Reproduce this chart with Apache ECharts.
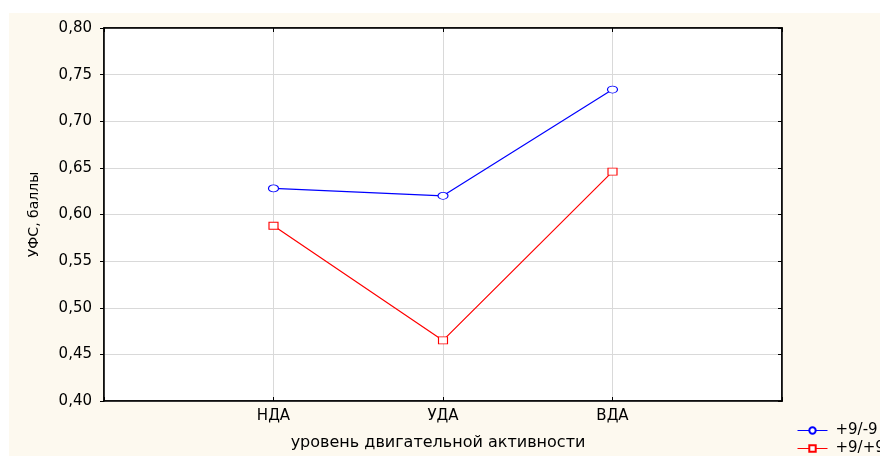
<!DOCTYPE html>
<html>
<head>
<meta charset="utf-8">
<script src="https://cdn.jsdelivr.net/npm/echarts@6/dist/echarts.min.js"></script>
<style>
  html, body { margin: 0; padding: 0; background: #ffffff; }
  #chart { width: 880px; height: 456px; }
</style>
</head>
<body>
<div id="chart"></div>
<script>
// Category slots: empty slots at both ends keep the three levels centred with margins
const categories = ['', 'НДА', 'УДА', 'ВДА', ''];
const seriesNames = ['+9/-9', '+9/+9'];
const valuesMinus = [null, 0.628, 0.620, 0.734, null];
const valuesPlus = [null, 0.588, 0.465, 0.646, null];
const yTicks = { min: 0.40, max: 0.80, step: 0.05 };

const FONT = '"DejaVu Sans", "Liberation Sans", Arial, sans-serif';
const chart = echarts.init(document.getElementById('chart'));

const commaFmt = v => v.toFixed(2).replace('.', ',');

// one legend box per series so each entry sits on its own row
const legendRow = (name, top) => ({
  orient: 'vertical',
  left: 797,
  top: top,
  itemWidth: 30,
  itemHeight: 8,
  padding: 0,
  lineStyle: { width: 1 },
  textStyle: { fontFamily: FONT, fontSize: 15, color: '#000', padding: [0, 0, 0, 3] },
  data: [name]
});

chart.setOption({
  animation: false,
  backgroundColor: '#ffffff',
  graphic: [{
    type: 'rect',
    z: -100,
    silent: true,
    shape: { x: 9, y: 13, width: 871, height: 443 },
    style: { fill: '#fdf9ef' }
  }],
  grid: {
    left: 104, top: 28, right: 98, bottom: 53,
    show: true,
    backgroundColor: '#ffffff',
    borderColor: '#000000',
    borderWidth: 1.5
  },
  legend: [legendRow(seriesNames[0], 423), legendRow(seriesNames[1], 441)],
  xAxis: [{
    type: 'category',
    data: categories,
    boundaryGap: false,
    position: 'bottom',
    name: 'уровень двигательной активности',
    nameLocation: 'middle',
    nameGap: 34,
    nameTextStyle: { fontFamily: FONT, fontSize: 16, color: '#000', padding: [0, 10, 0, 0] },
    axisLine: { lineStyle: { color: '#000', width: 1.5 } },
    axisTick: { inside: true, length: 4, lineStyle: { color: '#000' } },
    axisLabel: { fontFamily: FONT, fontSize: 15, color: '#000', margin: 8 },
    splitLine: { show: true, lineStyle: { color: '#d9d9d9', width: 1 } }
  }, {
    type: 'category',
    data: categories,
    boundaryGap: false,
    position: 'top',
    axisLine: { lineStyle: { color: '#000', width: 1.5 } },
    axisTick: { inside: true, length: 4, lineStyle: { color: '#000' } },
    axisLabel: { show: false },
    splitLine: { show: false }
  }],
  yAxis: [{
    type: 'value',
    min: yTicks.min,
    max: yTicks.max,
    interval: yTicks.step,
    position: 'left',
    name: 'УФС, баллы',
    nameLocation: 'middle',
    nameGap: 63,
    nameTextStyle: { fontFamily: FONT, fontSize: 14, color: '#000' },
    axisLine: { show: true, lineStyle: { color: '#000', width: 1.5 } },
    axisTick: { show: true, length: 4, lineStyle: { color: '#000' } },
    axisLabel: { fontFamily: FONT, fontSize: 15, color: '#000', margin: 12, formatter: commaFmt },
    splitLine: { show: true, lineStyle: { color: '#d9d9d9', width: 1 } }
  }, {
    type: 'value',
    min: yTicks.min,
    max: yTicks.max,
    interval: yTicks.step,
    position: 'right',
    axisLine: { show: true, lineStyle: { color: '#000', width: 1.5 } },
    axisTick: { show: true, inside: true, length: 4, lineStyle: { color: '#000' } },
    axisLabel: { show: false },
    splitLine: { show: false }
  }],
  series: [{
    name: seriesNames[0],
    type: 'line',
    data: valuesMinus,
    symbol: 'circle',
    symbolSize: [10, 7],
    showAllSymbol: true,
    lineStyle: { color: '#0000ff', width: 1.2 },
    itemStyle: { color: '#ffffff', borderColor: '#0000ff', borderWidth: 1 }
  }, {
    name: seriesNames[1],
    type: 'line',
    data: valuesPlus,
    symbol: 'rect',
    symbolSize: [9, 7],
    showAllSymbol: true,
    lineStyle: { color: '#ff0000', width: 1.2 },
    itemStyle: { color: '#ffffff', borderColor: '#ff0000', borderWidth: 1 }
  }]
});
</script>
</body>
</html>
